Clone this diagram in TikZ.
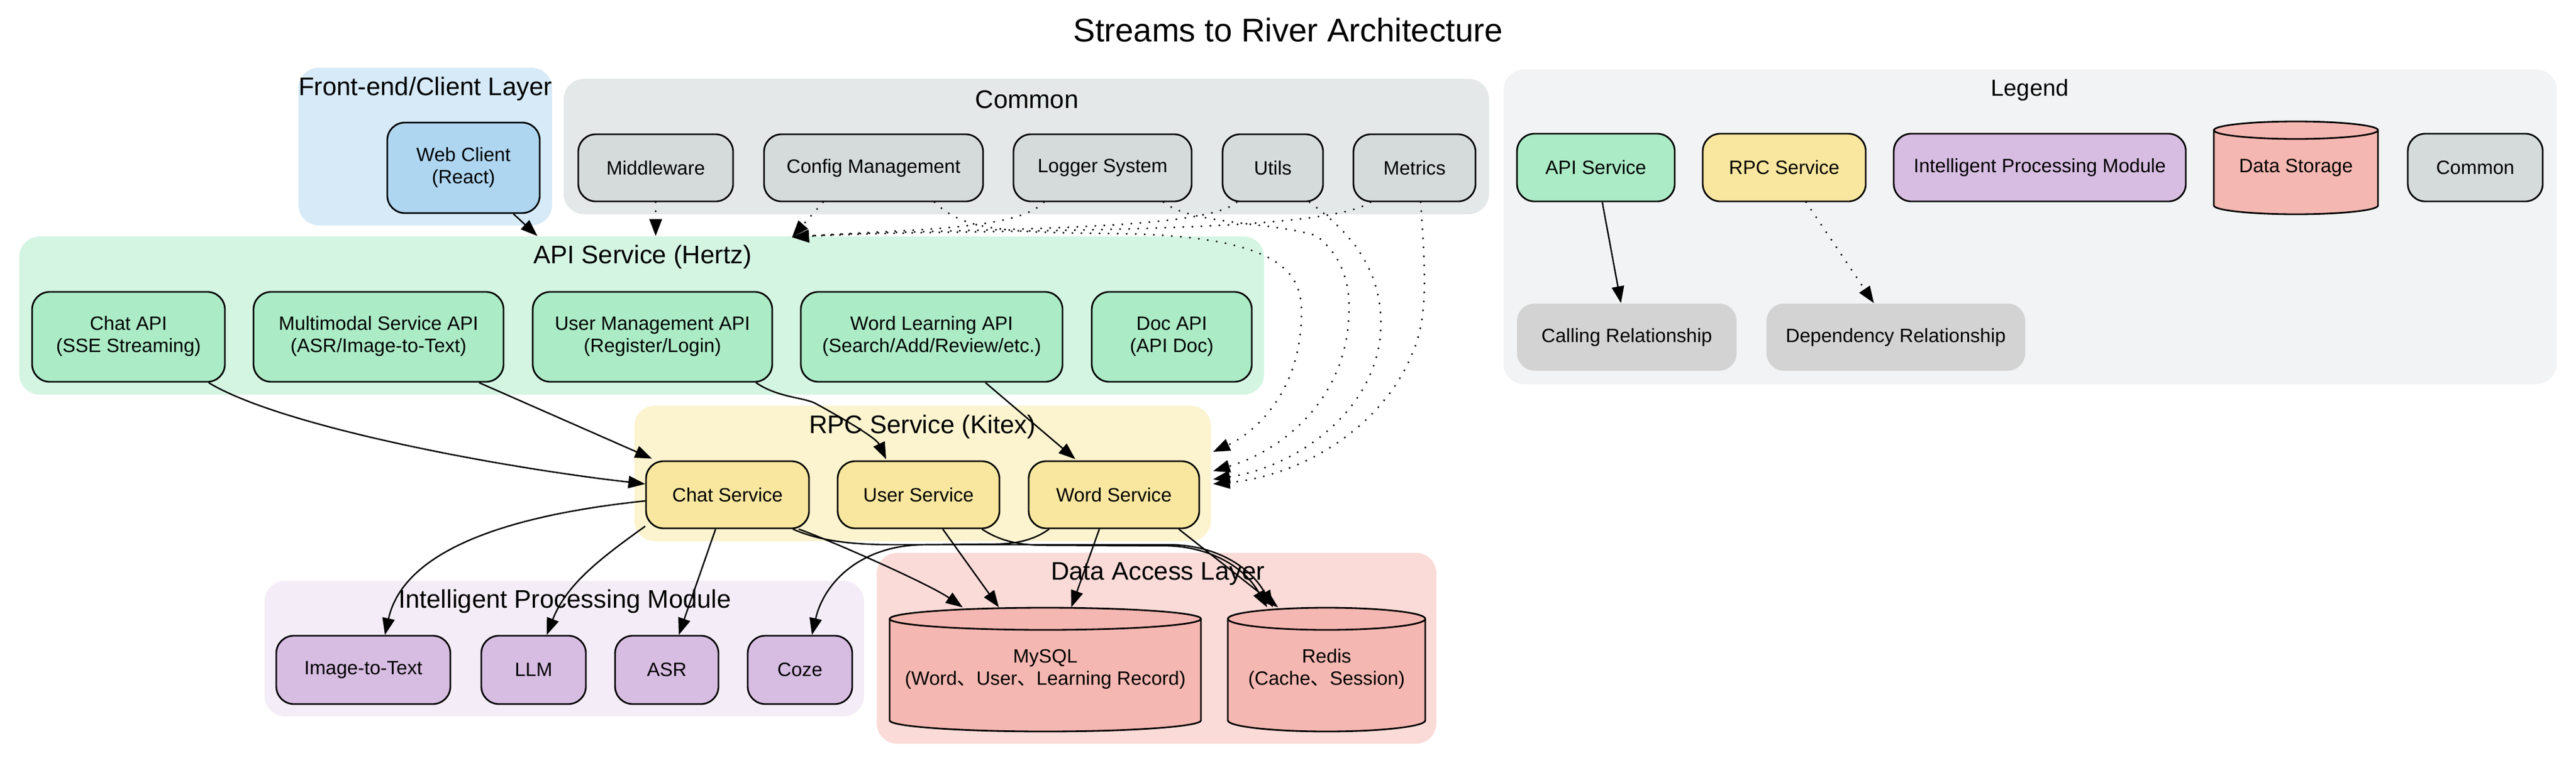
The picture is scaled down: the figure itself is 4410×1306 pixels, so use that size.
\documentclass[tikz,border=0pt]{standalone}
\usepackage{fontspec}
\setmainfont{Liberation Sans}
\newfontfamily\cjkf{Noto Sans CJK SC}
\usetikzlibrary{arrows.meta,calc}
\newcommand\mytl[1]{\begin{tabular}{@{}c@{}}#1\end{tabular}}
\definecolor{feCl}{HTML}{D6EAF8}
\definecolor{feNode}{HTML}{AED6F1}
\definecolor{cmCl}{HTML}{E5E8E8}
\definecolor{cmNode}{HTML}{D5DBDB}
\definecolor{apiCl}{HTML}{D5F5E3}
\definecolor{apiNode}{HTML}{ABEBC6}
\definecolor{rpcCl}{HTML}{FCF3CF}
\definecolor{rpcNode}{HTML}{F9E79F}
\definecolor{aiCl}{HTML}{F4ECF7}
\definecolor{aiNode}{HTML}{D7BDE2}
\definecolor{dbCl}{HTML}{FADBD8}
\definecolor{dbNode}{HTML}{F5B7B1}
\definecolor{lgCl}{HTML}{F2F3F4}
\definecolor{relNode}{HTML}{D3D3D3}
\begin{document}
\begin{tikzpicture}[x=0.01cm,y=-0.01cm,
  corners/.style n args={4}{minimum width={(#3-#1)*0.01cm}, minimum height={(#4-#2)*0.01cm}, at={({(#1+#3)/2},{(#2+#4)/2})}},
  nd/.style={draw=black, line width=0.8pt, rounded corners=0.3cm, inner sep=0pt, font={\fontsize{9.4}{10.8}\selectfont}},
  reln/.style={draw=none, fill=relNode, rounded corners=0.3cm, inner sep=0pt, font={\fontsize{9.4}{10.8}\selectfont}},
  cyltxt/.style={draw=none, inner sep=0pt, font={\fontsize{9.4}{10.8}\selectfont}},
  cylshape/.style={fill=dbNode, draw=black, line width=0.8pt},
  cl/.style={draw=none, rounded corners=0.35cm, inner sep=0pt},
  clt/.style={inner sep=0pt, font={\fontsize{12.4}{14}\selectfont}},
  call/.style={line width=0.7pt, -{Triangle[length=8.2pt,width=6pt]}},
  dep/.style={line width=1pt, line cap=round, dash pattern=on 0pt off 4.4pt, -{Triangle[length=8.2pt,width=6pt]}}
]
\fill[white] (0,0) rectangle (4410,1306);
\useasboundingbox (0,0) rectangle (4410,1306);

% clusters
\node[cl, fill=feCl, corners={511}{116}{945}{386}] (fecl) {};
\node[cl, fill=cmCl, corners={965}{135}{2549}{367}] (cmcl) {};
\node[cl, fill=apiCl, corners={33}{405}{2164}{676}] (apicl) {};
\node[cl, fill=rpcCl, corners={1086}{695}{2073}{927}] (rpccl) {};
\node[cl, fill=aiCl, corners={453}{995}{1479}{1227}] (aicl) {};
\node[cl, fill=dbCl, corners={1501}{947}{2459}{1274}] (dbcl) {};
\node[cl, fill=lgCl, corners={2574}{119}{4377}{658}] (lgcl) {};

% titles
\node[inner sep=0pt, font={\fontsize{16}{18}\selectfont}] (ttl) at (2205,51) {Streams to River Architecture};
\node[clt] (fet) at (728,152) {Front-end/Client Layer};
\node[clt] (cmt) at (1758,170) {Common};
\node[clt] (apit) at (1100,440) {API Service (Hertz)};
\node[clt] (rpct) at (1579,731) {RPC Service (Kitex)};
\node[clt] (ait) at (967,1030) {Intelligent Processing Module};
\node[clt] (dbt) at (1982,983) {Data Access Layer};
\node[inner sep=0pt, font={\fontsize{11.3}{13}\selectfont}] (lgt) at (3475,154) {Legend};

% front-end
\node[nd, fill=feNode, corners={663}{210}{924}{365}] (webc) {\mytl{Web Client\\(React)}};

% common
\node[nd, fill=cmNode, corners={990}{230}{1255}{345}] (mw) {Middleware};
\node[nd, fill=cmNode, corners={1308}{230}{1683}{345}] (cfg) {Config Management};
\node[nd, fill=cmNode, corners={1735}{230}{2040}{345}] (lgr) {Logger System};
\node[nd, fill=cmNode, corners={2093}{230}{2265}{345}] (utl) {Utils};
\node[nd, fill=cmNode, corners={2317}{230}{2526}{345}] (mtr) {Metrics};

% api
\node[nd, fill=apiNode, corners={55}{500}{385}{654}] (chatapi) {\mytl{Chat API\\(SSE Streaming)}};
\node[nd, fill=apiNode, corners={434}{500}{862}{654}] (mmapi) {\mytl{Multimodal Service API\\(ASR/Image-to-Text)}};
\node[nd, fill=apiNode, corners={912}{500}{1322}{654}] (umapi) {\mytl{User Management API\\(Register/Login)}};
\node[nd, fill=apiNode, corners={1371}{500}{1819}{654}] (wlapi) {\mytl{Word Learning API\\(Search/Add/Review/etc.)}};
\node[nd, fill=apiNode, corners={1869}{500}{2143}{654}] (docapi) {\mytl{Doc API\\(API Doc)}};

% rpc
\node[nd, fill=rpcNode, corners={1106}{790}{1385}{905}] (chats) {Chat Service};
\node[nd, fill=rpcNode, corners={1434}{790}{1711}{905}] (users) {User Service};
\node[nd, fill=rpcNode, corners={1761}{790}{2053}{905}] (words) {Word Service};

% ai
\node[nd, fill=aiNode, corners={473}{1089}{771}{1206}] (itt) {Image-to-Text};
\node[nd, fill=aiNode, corners={824}{1089}{1003}{1206}] (llm) {LLM};
\node[nd, fill=aiNode, corners={1053}{1089}{1230}{1206}] (asr) {ASR};
\node[nd, fill=aiNode, corners={1280}{1089}{1459}{1206}] (coze) {Coze};

% cylinders: MySQL
\path[cylshape] (1523,1060) -- (1523,1234) .. controls (1523,1244.5) and (1642.3,1253) .. (1789.5,1253) .. controls (1936.7,1253) and (2056,1244.5) .. (2056,1234) -- (2056,1060) .. controls (2056,1049.5) and (1936.7,1041) .. (1789.5,1041) .. controls (1642.3,1041) and (1523,1049.5) .. (1523,1060) -- cycle;
\draw[line width=0.8pt] (1523,1060) .. controls (1523,1070.5) and (1642.3,1079) .. (1789.5,1079) .. controls (1936.7,1079) and (2056,1070.5) .. (2056,1060);
\node[cyltxt, corners={1523}{1041}{2056}{1253}] (mysql) {\mytl{MySQL\\(Word{\cjkf 、}User{\cjkf 、}Learning Record)}};
% Redis
\path[cylshape] (2102,1060) -- (2102,1234) .. controls (2102,1244.5) and (2177.7,1253) .. (2271,1253) .. controls (2364.3,1253) and (2440,1244.5) .. (2440,1234) -- (2440,1060) .. controls (2440,1049.5) and (2364.3,1041) .. (2271,1041) .. controls (2177.7,1041) and (2102,1049.5) .. (2102,1060) -- cycle;
\draw[line width=0.8pt] (2102,1060) .. controls (2102,1070.5) and (2177.7,1079) .. (2271,1079) .. controls (2364.3,1079) and (2440,1070.5) .. (2440,1060);
\node[cyltxt, corners={2102}{1041}{2440}{1253}] (redis) {\mytl{Redis\\(Cache{\cjkf 、}Session)}};

% legend
\node[nd, fill=apiNode, corners={2597}{229}{2867}{345}] (lapi) {API Service};
\node[nd, fill=rpcNode, corners={2915}{229}{3194}{345}] (lrpc) {RPC Service};
\node[nd, fill=aiNode, corners={3242}{229}{3742}{345}] (lai) {Intelligent Processing Module};
\path[cylshape] (3790,223) -- (3790,352) .. controls (3790,360.3) and (3852.9,367) .. (3930.5,367) .. controls (4008.1,367) and (4071,360.3) .. (4071,352) -- (4071,223) .. controls (4071,214.7) and (4008.1,208) .. (3930.5,208) .. controls (3852.9,208) and (3790,214.7) .. (3790,223) -- cycle;
\draw[line width=0.8pt] (3790,223) .. controls (3790,231.3) and (3852.9,238) .. (3930.5,238) .. controls (4008.1,238) and (4071,231.3) .. (4071,223);
\node[cyltxt, corners={3790}{208}{4071}{367}] (lds) {Data Storage};
\node[nd, fill=cmNode, corners={4122}{229}{4353}{345}] (lcm) {Common};
\node[reln, corners={2597}{520}{2973}{635}] (lcall) {Calling Relationship};
\node[reln, corners={3024}{520}{3467}{635}] (ldep) {Dependency Relationship};

\coordinate (apihub) at ($(apicl.north)+(257.5,2)$);

% edges
\draw[call] ($(webc.south)+(85.5,0)$) -- ($(apicl.north)+(-178.5,0)$);
\draw[dep] (mw.south) -- (mw.south |- apicl.north);
\draw[dep] ($(cfg.south)+(-86.5,0)$) -- (apihub);
\draw[dep] ($(lgr.south)+(-100.5,0)$) .. controls (1740,395) and (1560,392) .. (apihub);
\draw[dep] ($(utl.south)+(-62,0)$) .. controls (2060,400) and (1600,390) .. (apihub);
\draw[dep] ($(mtr.south)+(-75.5,0)$) .. controls (2260,405) and (1650,390) .. (apihub);
\draw[dep] ($(cfg.south)+(104.5,0)$) .. controls (1650,395) and (1720,398) .. (1900,400) .. controls (2200,402) and (2230,470) .. (2228,540) .. controls (2226,680) and (2140,745) .. ($(rpccl.east)+(3,-37)$);
\draw[dep] ($(lgr.south)+(104.5,0)$) .. controls (2040,385) and (2180,380) .. (2254,404) .. controls (2300,440) and (2312,490) .. (2309,540) .. controls (2305,680) and (2200,770) .. ($(rpccl.east)+(3,-4)$);
\draw[dep] ($(utl.south)+(63,0)$) .. controls (2300,390) and (2364,450) .. (2364,554) .. controls (2364,700) and (2220,800) .. ($(rpccl.east)+(3,10)$);
\draw[dep] ($(mtr.south)+(10.5,0)$) .. controls (2440,460) and (2445,540) .. (2420,600) .. controls (2370,730) and (2230,815) .. ($(rpccl.east)+(3,18)$);

\draw[call] ($(chatapi.south)+(137,0)$) .. controls (480,730) and (850,800) .. ($(chats.west)+(0,-18.5)$);
\draw[call] ($(mmapi.south)+(172,0)$) -- ($(chats.north)+(-129.5,-3)$);
\draw[call] ($(umapi.south)+(177,0)$) .. controls (1330,680) and (1370,680) .. (1394,690) .. controls (1440,715) and (1500,750) .. ($(users.north)+(-55.5,-2)$);
\draw[call] ($(wlapi.south)+(92,0)$) -- ($(words.north)+(-66,-2)$);
\draw[call] ($(chats.west)+(0,10.5)$) .. controls (800,890) and (685,970) .. ($(itt.north)+(37,0)$);
\draw[call] ($(chats.south west)+(0,-5)$) .. controls (1030,955) and (970,1000) .. ($(llm.north)+(22.5,0)$);
\draw[call] ($(chats.south)+(-20.5,0)$) -- ($(asr.north)+(20.5,0)$);
\draw[call] ($(chats.south east)+(-19,0)$) .. controls (1420,925) and (1590,1000) .. ($(mysql.north)+(-141.5,0)$);
\draw[call] ($(chats.south east)+(-29,0)$) .. controls (1400,925) and (1450,933) .. (1530,933) -- (2000,933) .. controls (2080,933) and (2140,970) .. ($(redis.north)+(-92,0)$);
\draw[call] ($(users.south)+(41.5,0)$) -- ($(mysql.north)+(-79.5,0)$);
\draw[call] ($(users.south)+(108.5,0)$) .. controls (1710,925) and (1740,934) .. (1790,934) -- (2000,935) .. controls (2070,937) and (2130,970) .. ($(redis.north)+(-102,0)$);
\draw[call] ($(words.south)+(-25,0)$) -- ($(mysql.north)+(44.5,0)$);
\draw[call] ($(words.south)+(111,0)$) -- ($(redis.north)+(-83,0)$);
\draw[call] ($(words.south)+(-111,0)$) .. controls (1770,925) and (1740,932) .. (1700,932) -- (1580,933) .. controls (1470,935) and (1410,1000) .. ($(coze.north)+(20.5,0)$);
\draw[call] ($(lapi.south)+(11,0)$) -- ($(lcall.north)+(-10,0)$);
\draw[dep] ($(lrpc.south)+(37.5,0)$) -- ($(ldep.north)+(-37.5,0)$);
\end{tikzpicture}
\end{document}
